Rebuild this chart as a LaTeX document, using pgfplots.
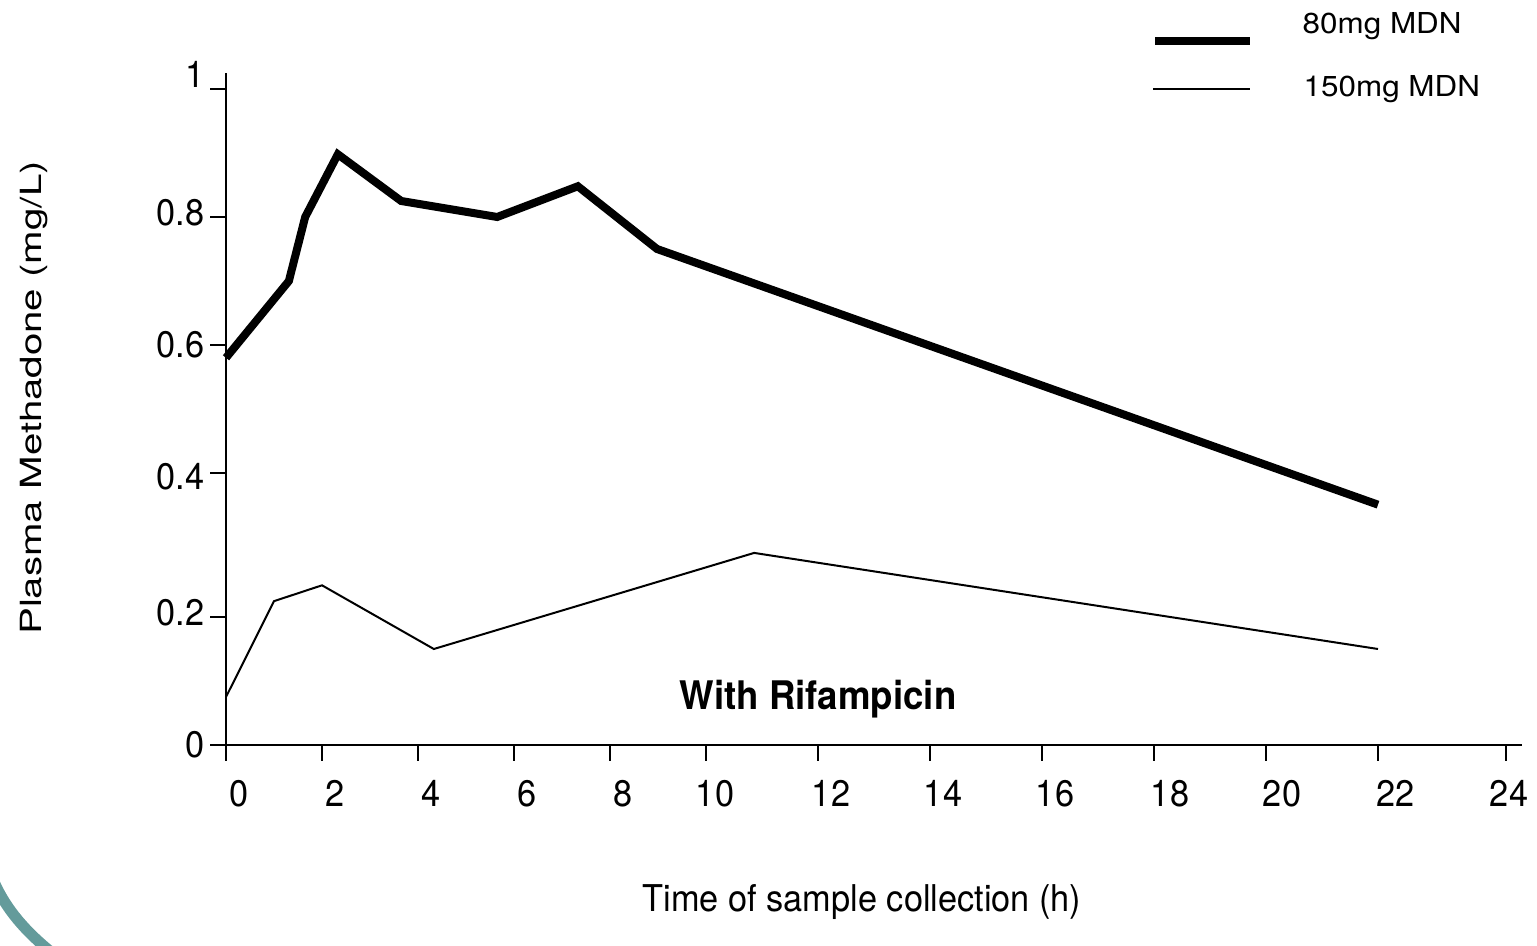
\documentclass[border=0pt]{standalone}
\usepackage{fontspec}
\setmainfont{TeX Gyre Heros}
\newfontfamily\ylabfont[FakeStretch=1.38]{TeX Gyre Heros}
\newfontfamily\legfont[FakeStretch=1.09]{TeX Gyre Heros}
\newfontfamily\narrowfont[FakeStretch=0.93]{TeX Gyre Heros}
\usepackage{pgfplots}
\pgfplotsset{compat=1.18}
\definecolor{slideteal}{HTML}{649B9B}

% 80 mg MDN (thick) and 150 mg MDN (thin), time in h, plasma methadone in mg/L
\pgfplotstableread{
t     c
0     0.580
1.31  0.700
1.65  0.800
2.33  0.898
3.65  0.825
5.65  0.800
7.33  0.848
8.98  0.750
22    0.356
}\mdnlow
\pgfplotstableread{
t     c
0     0.075
1.0   0.222
2.0   0.244
4.33  0.150
10.86 0.289
22    0.150
}\mdnhigh

\begin{document}
\begin{tikzpicture}[x=0.1mm,y=0.1mm]
\path[use as bounding box] (0,0) rectangle (1537,946);
\draw[slideteal,line width=1.1mm] (-5,62) .. controls (6,38) and (24,15) .. (56,-10);

\begin{axis}[
  at={(22.6mm,20.1mm)},anchor=south west,
  scale only axis,width=129.6mm,height=67.2mm,
  % the original axes are not evenly spaced
  x coord trafo/.code={\pgfmathparse{48*#1+8*max(#1-10,0)+8*max(#1-22,0)}},
  y coord trafo/.code={\pgfmathparse{640*#1+80*max(#1-0.2,0)-80*max(#1-0.4,0)}},
  xmin=0,xmax=24.25,ymin=0,ymax=1.025,
  axis x line=bottom,axis y line=left,
  axis line style={-,line width=0.2mm},
  tick align=outside,major tick length=1.6mm,
  every tick/.style={black,line width=0.2mm},
  xtick={0,2,4,6,8,10,12,14,16,18,20,22,24},
  xticklabels={0,2,4,6,8,\kern-0.8mm10,12,14,16,\kern0.6mm18,\kern0.6mm20,\kern1mm22,\kern-2mm24},
  ytick={0,0.2,0.4,0.6,0.8,1},
  yticklabels={0,\raisebox{0.4mm}{0.2},\raisebox{-0.3mm}{0.4},0.6,\raisebox{0.4mm}{0.8},\raisebox{1.4mm}{1}},
  xticklabel style={anchor=north,inner sep=0pt,xshift=1.3mm,yshift=-1.9mm},
  yticklabel style={anchor=base east,inner sep=0pt,xshift=-0.5mm,yshift=-1.3mm},
  xticklabel shift=0pt,yticklabel shift=0pt,
  ticklabel style={font=\narrowfont\fontsize{10.5}{12}\selectfont},
  /pgf/number format/assume math mode=true,
  clip=false,
]
\addplot[black,line width=0.8mm,line join=miter] table[x=t,y=c] {\mdnlow};
\addplot[black,line width=0.2mm,line join=miter] table[x=t,y=c] {\mdnhigh};
\end{axis}

% legend
\draw[black,line width=0.8mm] (1155,905) -- (1250,905);
\draw[black,line width=0.2mm] (1153,857) -- (1250,857);
\node[anchor=base west,inner sep=0pt,font=\legfont\fontsize{8.2}{10}\selectfont] at (1302,912) {80mg MDN};
\node[anchor=base west,inner sep=0pt,font=\legfont\fontsize{8.2}{10}\selectfont] at (1303,849) {150mg MDN};

% labels
\node[anchor=base,inner sep=0pt,rotate=90,font=\ylabfont\fontsize{8.3}{10}\selectfont] at (42,548) {Plasma Methadone (mg/L)};
\node[anchor=base,inner sep=0pt,font=\narrowfont\fontsize{10.5}{13}\selectfont] at (862,34) {Time of sample collection (h)};
\node[anchor=base,inner sep=0pt,font=\narrowfont\bfseries\fontsize{11.2}{14}\selectfont] at (818,236) {With Rifampicin};
\end{tikzpicture}
\end{document}
